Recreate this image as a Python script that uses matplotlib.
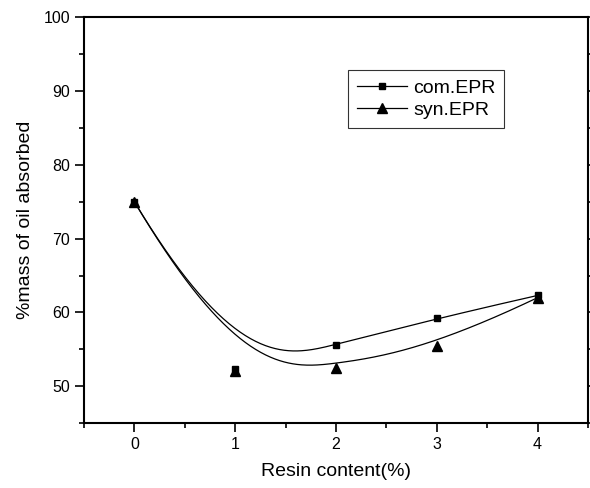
import numpy as np
import matplotlib
matplotlib.use("Agg")
import matplotlib.pyplot as plt
from matplotlib.ticker import MultipleLocator

plt.rcParams['font.family'] = ['Liberation Sans', 'DejaVu Sans']

resin = [0, 1, 2, 3, 4]
com_epr = [75.0, 52.3, 55.6, 59.2, 62.3]
syn_epr = [75.0, 52.0, 52.5, 55.5, 62.0]


def bspline(xs, ys, k=3, n=300):
    P = np.column_stack([xs, ys]).astype(float)
    m = len(P)
    t = np.concatenate([np.zeros(k), np.linspace(0, 1, m - k + 1), np.ones(k)])
    u = np.linspace(0, 1, n)
    u[-1] -= 1e-9

    def N(i, p, u):
        if p == 0:
            return ((t[i] <= u) & (u < t[i + 1])).astype(float)
        r = np.zeros_like(u)
        d1 = t[i + p] - t[i]
        d2 = t[i + p + 1] - t[i + 1]
        if d1 > 0:
            r += (u - t[i]) / d1 * N(i, p - 1, u)
        if d2 > 0:
            r += (t[i + p + 1] - u) / d2 * N(i + 1, p - 1, u)
        return r

    B = np.array([N(i, k, u) for i in range(m)])
    C = B.T @ P
    return C[:, 0], C[:, 1]


fig = plt.figure(figsize=(5.9, 4.88), dpi=100)
ax = fig.add_axes([0.1424, 0.1332, 0.8542, 0.8310])

cx, cy = bspline(resin, com_epr)
sx, sy = bspline(resin, syn_epr)
ax.plot(cx, cy, color='black', lw=0.9)
ax.plot(sx, sy, color='black', lw=0.9)
ax.plot(resin, com_epr, ls='none', marker='s', ms=5, color='black')
ax.plot(resin, syn_epr, ls='none', marker='^', ms=6.5, color='black')

# legend proxies
h1, = ax.plot([], [], color='black', lw=0.9, marker='s', ms=5, label='com.EPR')
h2, = ax.plot([], [], color='black', lw=0.9, marker='^', ms=6.5, label='syn.EPR')
leg = ax.legend(handles=[h1, h2], loc='upper left', bbox_to_anchor=(0.524, 0.870),
                frameon=True, fancybox=False, edgecolor='black', fontsize=14,
                handlelength=2.6, handletextpad=0.3, borderpad=0.45, labelspacing=0.25,
                borderaxespad=0)
leg.get_frame().set_linewidth(0.8)

ax.set_xlim(-0.5, 4.5)
ax.set_ylim(45, 100)
ax.xaxis.set_major_locator(MultipleLocator(1))
ax.xaxis.set_minor_locator(MultipleLocator(0.5))
ax.yaxis.set_major_locator(MultipleLocator(10))
ax.yaxis.set_minor_locator(MultipleLocator(5))
ax.set_yticks([50, 60, 70, 80, 90, 100])

for s in ax.spines.values():
    s.set_linewidth(1.5)

ax.tick_params(axis='both', which='major', direction='out', length=6.5, width=1.2, labelsize=11.5)
ax.tick_params(axis='both', which='minor', direction='out', length=3.5, width=1.2)
ax.tick_params(axis='both', which='both', top=True, right=True, labeltop=False, labelright=False)
for t in ax.xaxis.get_ticklines(minor=False)[1::2] + ax.xaxis.get_ticklines(minor=True)[1::2]:
    t.set_markersize(1)
for t in ax.yaxis.get_ticklines(minor=False)[1::2] + ax.yaxis.get_ticklines(minor=True)[1::2]:
    t.set_markersize(1.5)

ax.set_xlabel('Resin content(%)', fontsize=14, labelpad=8)
ax.set_ylabel('%mass of oil absorbed', fontsize=14, labelpad=7)

fig.savefig('out.png', dpi=100)
